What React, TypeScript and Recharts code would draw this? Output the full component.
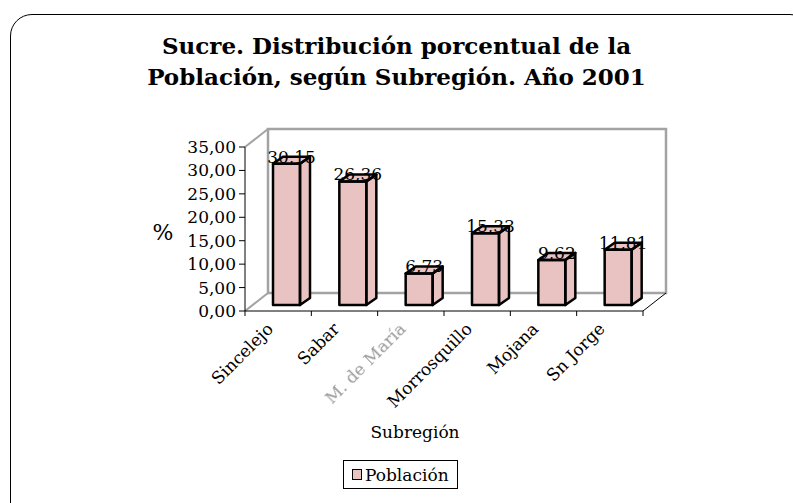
import { BarChart, Bar, XAxis, YAxis, ReferenceArea } from 'recharts';

const subregions = ['Sincelejo', 'Sabar', 'M. de María', 'Morrosquillo', 'Mojana', 'Sn Jorge'];
const poblacion = [30.15, 26.36, 6.73, 15.33, 9.62, 11.81];
const yTicks = [0, 5, 10, 15, 20, 25, 30, 35];

const data = subregions.map((name, i) => ({ name, poblacion: poblacion[i] }));

const FONT = '"DejaVu Serif", "Liberation Serif", serif';
const BAR_FILL = '#e9c2c2';
const WALL = '#a3a3a3';
// depth of the "3d" box and of each bar
const DEPTH = { dx: 23, dy: 18 };
const BAR_SHIFT = { dx: 8, dy: 6 };
const BAR_DEPTH = { dx: 10, dy: 7 };

const fmt = (v: number) => v.toFixed(2).replace('.', ',');

function Walls(props: any) {
  const { x, y, width: w, height: h } = props;
  const { dx, dy } = DEPTH;
  return (
    <g>
      <rect x={x + dx} y={y - dy} width={w} height={h} fill="#fff" stroke={WALL} strokeWidth={2.5} />
      <line x1={x} y1={y} x2={x + dx} y2={y - dy} stroke={WALL} strokeWidth={2} />
      <line x1={x} y1={y + h} x2={x + dx} y2={y + h - dy} stroke={WALL} strokeWidth={2} />
      <line x1={x + w} y1={y + h} x2={x + w + dx} y2={y + h - dy} stroke="#000" strokeWidth={1} />
    </g>
  );
}

function Box(props: any) {
  const { x, y, width, height, value } = props;
  const fx = x + BAR_SHIFT.dx;
  const fy = y - BAR_SHIFT.dy;
  const { dx, dy } = BAR_DEPTH;
  const r = fx + width;
  const b = fy + height;
  const top = `M${fx},${fy} L${fx + dx},${fy - dy} L${r + dx},${fy - dy} L${r},${fy} Z`;
  const side = `M${r},${fy} L${r + dx},${fy - dy} L${r + dx},${b - dy} L${r},${b} Z`;
  const v = Array.isArray(value) ? value[1] - value[0] : value;
  return (
    <g>
      <rect x={fx} y={fy} width={width} height={height} fill={BAR_FILL} />
      <path d={top} fill={BAR_FILL} />
      <path d={side} fill={BAR_FILL} />
      <text x={fx + width / 2 + dx / 2} y={fy - 1} textAnchor="middle" fontFamily={FONT} fontSize={17} fill="#000">
        {fmt(v)}
      </text>
      <g fill="none" stroke="#000" strokeWidth={2.5} strokeLinejoin="round">
        <rect x={fx} y={fy} width={width} height={height} />
        <path d={top} />
        <path d={side} />
      </g>
    </g>
  );
}

function CatTick(props: any) {
  const { x, y, payload, index, visibleTicksCount } = props;
  const half = payload.offset ?? 33;
  const axisY = y - 5;
  const tx = x - 4;
  const ty = y + 14;
  const faded = payload.value === 'M. de María';
  return (
    <g>
      <line x1={x - half} y1={axisY} x2={x - half} y2={axisY + 5} stroke="#000" />
      {index === visibleTicksCount - 1 && (
        <line x1={x + half} y1={axisY} x2={x + half} y2={axisY + 5} stroke="#000" />
      )}
      <text
        x={tx}
        y={ty}
        textAnchor="end"
        transform={`rotate(-45 ${tx} ${ty})`}
        fontFamily={FONT}
        fontSize={17}
        fill={faded ? '#9a9a9a' : '#000'}
        style={faded ? { filter: 'blur(0.7px)' } : undefined}
      >
        {payload.value}
      </text>
    </g>
  );
}

export default function App() {
  return (
    <div style={{ position: 'absolute', left: 0, top: 0, width: 793, height: 503, overflow: 'hidden', background: '#fff', fontFamily: FONT }}>
      <div
        style={{
          position: 'absolute',
          left: 10,
          top: 14,
          width: 800,
          height: 510,
          border: '1.5px solid #000',
          borderRadius: 22
        }}
      />
      <div
        style={{
          position: 'absolute',
          left: 0,
          top: 30,
          width: 793,
          textAlign: 'center',
          fontWeight: 'bold',
          fontSize: 23,
          lineHeight: '31px'
        }}
      >
        Sucre. Distribución porcentual de la
        <br />
        Población, según Subregión. Año 2001
      </div>
      <div style={{ position: 'absolute', left: 0, top: 0 }}>
        <BarChart
          width={793}
          height={503}
          data={data}
          barSize={27}
          margin={{ top: 147, right: 150, bottom: 132, left: 185 }}
        >
          <ReferenceArea y1={0} y2={35} shape={<Walls />} ifOverflow="visible" />
          <XAxis
            dataKey="name"
            height={60}
            tickLine={false}
            tickSize={5}
            tickMargin={0}
            interval={0}
            stroke="#000"
            tick={<CatTick />}
            label={{
              content: (p: any) => (
                <text
                  x={p.viewBox.x + p.viewBox.width / 2 - 29}
                  y={p.viewBox.y + 127}
                  textAnchor="middle"
                  fontFamily={FONT}
                  fontSize={17}
                  fill="#000"
                >
                  Subregión
                </text>
              )
            }}
          />
          <YAxis
            width={60}
            domain={[0, 35]}
            ticks={yTicks}
            interval={0}
            tickFormatter={fmt}
            tickSize={6}
            tickMargin={3}
            stroke="#000"
            tick={{ fill: '#000', fontSize: 17, fontFamily: FONT }}
            label={{
              content: (p: any) => (
                <text
                  x={p.viewBox.x - 22}
                  y={p.viewBox.y + p.viewBox.height / 2 + 11}
                  textAnchor="middle"
                  fontFamily={FONT}
                  fontSize={22}
                  fill="#000"
                >
                  %
                </text>
              )
            }}
          />
          <Bar dataKey="poblacion" shape={<Box />} isAnimationActive={false} />
        </BarChart>
      </div>
      <div
        style={{
          position: 'absolute',
          left: 343,
          top: 460,
          width: 113,
          height: 27,
          border: '1px solid #000',
          display: 'flex',
          alignItems: 'center',
          fontSize: 17
        }}
      >
        <span
          style={{
            display: 'inline-block',
            width: 8,
            height: 9,
            marginLeft: 8,
            marginRight: 3,
            background: BAR_FILL,
            border: '1.5px solid #000'
          }}
        />
        Población
      </div>
    </div>
  );
}
